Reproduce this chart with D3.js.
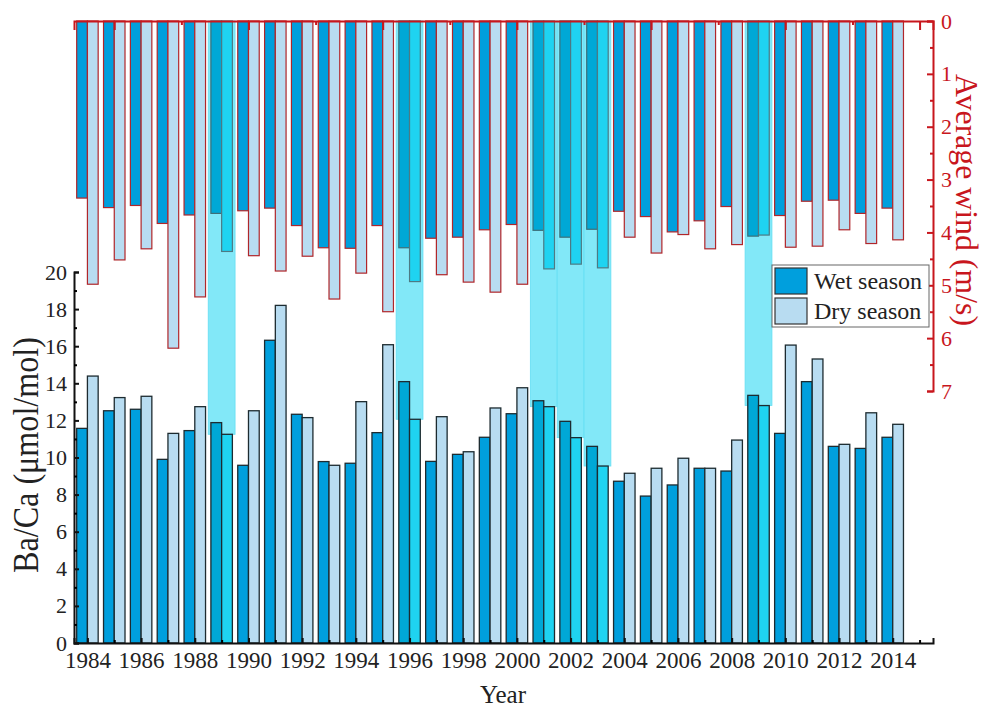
<!DOCTYPE html>
<html>
<head>
<meta charset="utf-8">
<script src="https://cdn.jsdelivr.net/npm/d3@7"></script>
<style>
  body { margin: 0; background: #fff; }
  text { font-family: "Liberation Serif", "Times New Roman", serif; }
</style>
</head>
<body>
<div id="chart"></div>
<script>
// Years on the x axis
const years = [1984, 1985, 1986, 1987, 1988, 1989, 1990, 1991, 1992, 1993, 1994,
  1995, 1996, 1997, 1998, 1999, 2000, 2001, 2002, 2003, 2004, 2005, 2006, 2007,
  2008, 2009, 2010, 2011, 2012, 2013, 2014];

// Ba/Ca (umol/mol)
const baWet = [11.57, 12.52, 12.6, 9.9, 11.45, 11.88, 9.58, 16.32, 12.33, 9.78, 9.69,
  11.34, 14.09, 9.79, 10.17, 11.09, 12.36, 13.06, 11.95, 10.6, 8.72, 7.92, 8.52, 9.42,
  9.27, 13.35, 11.3, 14.09, 10.6, 10.49, 11.09];
const baDry = [14.39, 13.23, 13.3, 11.3, 12.74, 11.25, 12.52, 18.2, 12.15, 9.58, 13.01,
  16.08, 12.06, 12.2, 10.31, 12.67, 13.76, 12.74, 11.07, 9.54, 9.15, 9.42, 9.96, 9.42,
  10.94, 12.8, 16.06, 15.31, 10.71, 12.41, 11.79];

// Average wind (m/s), hanging from the top
const windWet = [3.35, 3.53, 3.49, 3.83, 3.67, 3.64, 3.59, 3.54, 3.87, 4.29, 4.3,
  3.87, 4.29, 4.11, 4.09, 3.95, 3.85, 3.96, 4.09, 3.94, 3.6, 3.7, 3.99, 3.78,
  3.51, 4.07, 3.68, 3.41, 3.39, 3.64, 3.54];
const windDry = [4.98, 4.52, 4.31, 6.19, 5.22, 4.36, 4.44, 4.73, 4.45, 5.26, 4.77,
  5.5, 4.93, 4.8, 4.94, 5.13, 4.98, 4.69, 4.6, 4.67, 4.09, 4.39, 4.04, 4.31,
  4.23, 4.05, 4.28, 4.26, 3.95, 4.21, 4.14];

// highlighted years (cyan bands)
const highlightYears = [1989, 1996, 2001, 2002, 2003, 2009];

const yearTicks = [1984, 1986, 1988, 1990, 1992, 1994, 1996, 1998, 2000, 2002,
  2004, 2006, 2008, 2010, 2012, 2014];
const baTicks = [0, 2, 4, 6, 8, 10, 12, 14, 16, 18, 20];
const windTicks = [0, 1, 2, 3, 4, 5, 6, 7];

const width = 986, height = 710;
const left = 74, right = 933;
const baTop = 272, baBottom = 643;
const windTop = 21, windBottom = 391;

const colWet = "#009fdd", colDry = "#b8dcf1";
const colWetHi = "#00a8d6", colDryHi = "#1fd3f1";
const colBand = "#82e8f8";
const red = "#c8161d", barRed = "#b0262a";

const svg = d3.select("#chart").append("svg")
  .attr("width", width).attr("height", height);

const x = d3.scaleLinear().domain([1983.5, 2015.5]).range([left, right]);
const yBa = d3.scaleLinear().domain([0, 20]).range([baBottom, baTop]);
const yWind = d3.scaleLinear().domain([0, 7]).range([windTop, windBottom]);
const bw = x(1984.4) - x(1984);

const rows = years.map((yr, i) => ({
  year: yr, baWet: baWet[i], baDry: baDry[i], windWet: windWet[i], windDry: windDry[i],
  hi: highlightYears.includes(yr)
}));

// cyan bands
svg.append("g").selectAll("rect")
  .data(rows.filter(d => d.hi))
  .enter().append("rect")
  .attr("x", d => x(d.year - 0.5))
  .attr("width", x(1) - x(0))
  .attr("y", windTop)
  .attr("height", d => yBa(Math.min(d.baWet, d.baDry)) - windTop)
  .attr("fill", colBand)
  .attr("stroke", "#63def3")
  .attr("stroke-width", 0.8);

// wind bars (top)
const wind = svg.append("g");
wind.selectAll("rect.ww")
  .data(rows).enter().append("rect")
  .attr("class", "ww")
  .attr("x", d => x(d.year) - bw)
  .attr("width", bw)
  .attr("y", windTop)
  .attr("height", d => yWind(d.windWet) - windTop)
  .attr("fill", d => d.hi ? colWetHi : colWet)
  .attr("stroke", d => d.hi ? "#3d6f78" : barRed)
  .attr("stroke-width", 1.2);
wind.selectAll("rect.wd")
  .data(rows).enter().append("rect")
  .attr("class", "wd")
  .attr("x", d => x(d.year))
  .attr("width", bw)
  .attr("y", windTop)
  .attr("height", d => yWind(d.windDry) - windTop)
  .attr("fill", d => d.hi ? colDryHi : colDry)
  .attr("stroke", d => d.hi ? "#4d7a84" : barRed)
  .attr("stroke-width", 1.2);

// Ba/Ca bars (bottom)
const ba = svg.append("g");
ba.selectAll("rect.bw")
  .data(rows).enter().append("rect")
  .attr("class", "bw")
  .attr("x", d => x(d.year) - bw)
  .attr("width", bw)
  .attr("y", d => yBa(d.baWet))
  .attr("height", d => baBottom - yBa(d.baWet))
  .attr("fill", d => d.hi ? colWetHi : colWet)
  .attr("stroke", "#1d2b30")
  .attr("stroke-width", 1.3);
ba.selectAll("rect.bd")
  .data(rows).enter().append("rect")
  .attr("class", "bd")
  .attr("x", d => x(d.year))
  .attr("width", bw)
  .attr("y", d => yBa(d.baDry))
  .attr("height", d => baBottom - yBa(d.baDry))
  .attr("fill", d => d.hi ? colDryHi : colDry)
  .attr("stroke", "#1d2b30")
  .attr("stroke-width", 1.3);

// bottom x axis
const xAxis = svg.append("g")
  .attr("transform", `translate(0,${baBottom})`)
  .call(d3.axisBottom(x).tickValues(yearTicks).tickSize(-5).tickFormat(d3.format("d")));
svg.append("g")
  .attr("transform", `translate(0,${baBottom})`)
  .call(d3.axisBottom(x).tickValues(d3.range(1985, 2016, 2)).tickSize(-3).tickFormat(""))
  .call(g => g.select(".domain").remove());
xAxis.selectAll("text").attr("font-size", 23).attr("dy", "0.95em").attr("y", 3)
  .attr("font-family", "Liberation Serif, serif").attr("fill", "#222");

// left axis
const yAxis = svg.append("g")
  .attr("transform", `translate(${left},0)`)
  .call(d3.axisLeft(yBa).tickValues(baTicks).tickSize(-5).tickPadding(7));
svg.append("g")
  .attr("transform", `translate(${left},0)`)
  .call(d3.axisLeft(yBa).tickValues(d3.range(1, 20, 2)).tickSize(-3).tickFormat(""))
  .call(g => g.select(".domain").remove());
yAxis.selectAll("text").attr("font-size", 22)
  .attr("font-family", "Liberation Serif, serif").attr("fill", "#222");

[xAxis, yAxis].forEach(g => {
  g.select(".domain").attr("stroke", "#111").attr("stroke-width", 2);
  g.selectAll(".tick line").attr("stroke", "#111").attr("stroke-width", 2);
});
svg.selectAll(".tick line").attr("stroke-width", 2);

// top red axis for the wind bars
const xTop = svg.append("g")
  .attr("transform", `translate(0,${windTop})`)
  .call(d3.axisTop(x).tickValues([1985, 1990, 1995, 2000, 2005, 2010, 2015]).tickSize(-9).tickFormat(""));
const xTopMinor = svg.append("g")
  .attr("transform", `translate(0,${windTop})`)
  .call(d3.axisTop(x).tickValues([1987.5, 1992.5, 1997.5, 2002.5, 2007.5, 2012.5]).tickSize(-4).tickFormat(""))
  .call(g => g.select(".domain").remove());

// right red axis
const yRight = svg.append("g")
  .attr("transform", `translate(${right},0)`)
  .call(d3.axisRight(yWind).tickValues(windTicks).tickSize(-6).tickPadding(8)
    .tickFormat(d3.format("d")));
const yRightMinor = svg.append("g")
  .attr("transform", `translate(${right},0)`)
  .call(d3.axisRight(yWind).tickValues([0.5, 1.5, 2.5, 3.5, 4.5, 5.5, 6.5]).tickSize(-3).tickFormat(""))
  .call(g => g.select(".domain").remove());
yRight.selectAll("text").attr("font-size", 22).attr("fill", red)
  .attr("font-family", "Liberation Serif, serif");

[xTop, xTopMinor, yRight, yRightMinor].forEach(g => {
  g.select(".domain").attr("stroke", red).attr("stroke-width", 2);
  g.selectAll(".tick line").attr("stroke", red).attr("stroke-width", 2);
});

// axis titles
svg.append("text")
  .attr("transform", `translate(38,455) rotate(-90)`)
  .attr("text-anchor", "middle")
  .attr("font-size", 35)
  .attr("textLength", 236)
  .attr("lengthAdjust", "spacingAndGlyphs")
  .attr("fill", "#222")
  .text("Ba/Ca (μmol/mol)");

svg.append("text")
  .attr("transform", `translate(956,200) rotate(90)`)
  .attr("text-anchor", "middle")
  .attr("font-size", 32)
  .attr("textLength", 252)
  .attr("lengthAdjust", "spacingAndGlyphs")
  .attr("fill", red)
  .text("Average wind (m/s)");

svg.append("text")
  .attr("x", 503).attr("y", 703)
  .attr("text-anchor", "middle")
  .attr("font-size", 25)
  .attr("fill", "#222")
  .text("Year");

// legend
const legend = svg.append("g").attr("transform", "translate(772,265)");
legend.append("rect")
  .attr("width", 157).attr("height", 62)
  .attr("fill", "#fff").attr("stroke", "#666").attr("stroke-width", 1);
const items = [["Wet season", colWet], ["Dry season", colDry]];
items.forEach(([name, col], i) => {
  legend.append("rect")
    .attr("x", 3).attr("y", 3 + i * 30)
    .attr("width", 32).attr("height", 26)
    .attr("fill", col).attr("stroke", "#333").attr("stroke-width", 1.2);
  legend.append("text")
    .attr("x", 42).attr("y", 24 + i * 30)
    .attr("font-size", 24)
    .attr("fill", "#222")
    .text(name);
});
</script>
</body>
</html>
